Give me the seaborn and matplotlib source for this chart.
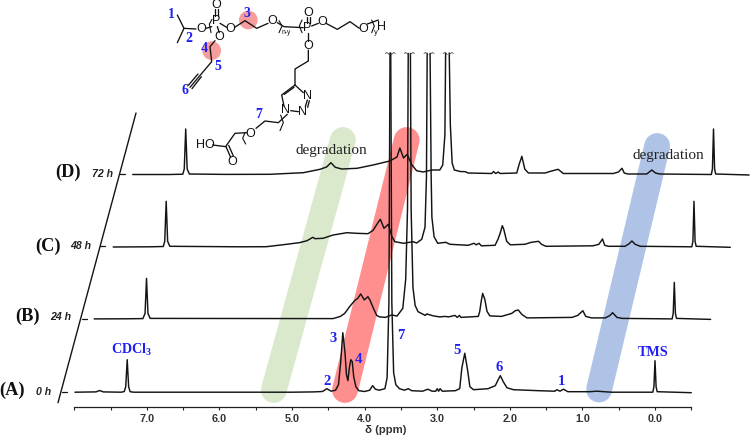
import numpy as np
import matplotlib
matplotlib.use("Agg")
import matplotlib.pyplot as plt
from matplotlib.patches import Circle
import seaborn as sns

# ---------- spectra: (delta ppm, height above the trace's baseline) ----------
delta_A = [7.99,7.70,7.65,7.60,7.35,7.31,7.29,7.27,7.25,7.23,7.18,5.0,4.7,4.58,4.52,4.46,4.40,4.36,4.33,4.30,4.27,4.25,4.23,4.21,4.19,4.17,4.15,4.12,4.08,4.0,3.93,3.89,3.85,3.8,3.72,3.69,3.665,3.65,3.64,3.625,3.60,3.57,3.52,3.45,3.40,3.35,3.2,3.13,3.07,3.02,3.00,2.98,2.96,2.93,2.75,2.69,2.66,2.62,2.58,2.55,2.5,2.3,2.2,2.16,2.13,2.09,2.04,1.95,1.6,1.38,1.35,1.31,1.26,1.2,0.9,0.8,0.6,0.03,0.015,0.0,-0.015,-0.03,-0.5]
height_A = [0.5,0.8,2.2,0.8,0.5,1.2,6,33,6,1,0.5,0.5,0.8,1.2,4,1.5,2.5,8,30,60,40,18,12,25,33,31,16,6,2,1.2,2.5,7,3.5,2.5,4,15,90,339.7,339.7,90,20,8,4,2.5,4,2,1.5,3.5,1.5,1.5,4,1.5,4,1.5,2,4,25,39.5,22,6,3,4,7,13,17,11,5,3,2,1.5,3,1.5,3.5,1,1,1.5,0.5,0.5,6,32,6,1,0]

delta_B = [7.99,7.57,7.32,7.29,7.27,7.25,7.22,4.70,4.60,4.54,4.47,4.40,4.36,4.32,4.27,4.22,4.19,4.15,4.10,4.06,3.98,3.89,3.82,3.74,3.70,3.675,3.665,3.635,3.625,3.60,3.57,3.53,3.47,3.43,3.41,3.32,3.23,3.16,3.11,3.02,2.99,2.96,2.94,2.70,2.68,2.66,2.64,2.61,2.58,2.54,2.38,2.24,2.19,2.15,2.10,2.03,1.41,1.33,1.26,1.22,1.14,0.95,0.885,0.85,0.79,0.72,0.03,0.015,0.0,-0.015,-0.03,-0.5]
height_B = [0.5,0.6,0.8,6,41,6,1,0.8,3,6,13,19,21,25.5,19.5,22.7,19,12,4,2.5,2,4.5,3.3,11,40,110,266,266,110,32,14,7.7,5.5,4,5.5,3.5,2.5,3,2.5,4,2,4,2,3,8,18,26,20,8,3.5,3,6,8.7,9.4,5,1.5,2,4,8.7,3,1.5,1.5,4,6.7,2,1,0.5,6,37,6,1,0]

delta_C = [8.0,7.49,7.31,7.29,7.27,7.25,7.22,6.25,5.89,5.61,5.43,5.33,5.25,5.22,5.11,4.97,4.78,4.65,4.49,4.42,4.35,4.32,4.27,4.21,4.16,4.12,4.00,3.87,3.82,3.75,3.705,3.685,3.675,3.635,3.62,3.61,3.58,3.53,3.42,3.36,3.11,3.03,3.00,2.96,2.93,2.74,2.70,2.67,2.64,2.62,2.58,2.53,2.33,2.24,2.14,2.10,2.04,1.39,1.31,1.26,1.23,1.18,0.95,0.895,0.855,0.81,0.74,0.03,0.015,0.0,-0.015,-0.03,-0.5]
height_C = [0.3,0.5,0.8,6,46,6,1,0.5,0.6,3,4.7,6.6,10,8.6,9,12.3,14.6,14,13.6,17,25,28,19,23,10.6,5.6,4,5.6,4.3,8,20,70,194,194,70,30,10.6,4,5,3,2,4,2.5,4,1.5,2,8,14,21.6,18,6,2.5,3,5,6,3,1,1.5,3,8.3,2,1,1,3.5,6.3,3,1,0.5,6,46,6,1,0]

delta_D = [8.0,7.49,7.31,7.29,7.27,7.25,7.22,6.73,6.11,5.65,5.42,5.33,5.27,5.21,5.12,4.91,4.69,4.46,4.36,4.32,4.27,4.22,4.16,4.09,4.00,3.88,3.77,3.73,3.70,3.69,3.64,3.625,3.60,3.57,3.49,3.42,3.38,3.055,3.03,3.00,2.965,2.94,2.71,2.68,2.64,2.60,2.55,2.32,2.23,2.14,2.07,1.38,1.31,1.26,1.23,1.18,0.92,0.85,0.80,0.74,0.03,0.015,0.0,-0.015,-0.03,-0.49]
height_D = [0.5,0.5,0.8,6,46,6,1,0.6,0.7,2.3,5.7,8,12.3,7.7,6,6.7,10,14,18,27,17,20.7,10.7,4.3,3,5,5,10,40,122,122,50,12,5,3.5,3.3,2,1.5,3.5,1.5,3,1.5,2,10,18.7,6,2,2,4,5.7,1.5,1.5,3,6.7,2,1,1,5,2,1,0.5,6,46,6,1,0]

traces = [(delta_A, height_A), (delta_B, height_B), (delta_C, height_C), (delta_D, height_D)]
trace_base = [392.7, 319.4, 247.3, 175.0]
trace_shift = [0.0, -0.266, -0.537, -0.806]

# highlighted bands: (delta on the axis, pixel row)
band_green = ([5.25, 4.30], [390, 140])
band_red = ([4.27, 3.42], [390, 140])
band_blue = ([0.77, -0.03], [389.5, 146])

ticks_major = [7, 6, 5, 4, 3, 2, 1, 0]
ticks_minor = [8, 7.5, 6.5, 5.5, 4.5, 3.5, 2.5, 1.5, 0.5, -0.5]
tick_labels = ["7.0", "6.0", "5.0", "4.0", "3.0", "2.0", "1.0", "0.0"]

sns.set_theme(style="white")
plt.rcParams["font.family"] = ["Liberation Sans", "DejaVu Sans"]
plt.rcParams["mathtext.default"] = "regular"

fig = plt.figure(figsize=(7.5, 4.36), dpi=100)
ax = fig.add_axes([0, 0, 1, 1])
ax.patch.set_alpha(0)

BLK = "#141414"
for (b, col) in [(band_green, "#DAE8CC"), (band_red, "#FF8F8F"), (band_blue, "#AFC3E6")]:
    sns.lineplot(x=b[0], y=b[1], sort=False, estimator=None, ax=ax, color=col,
                 lw=18.6, solid_capstyle="round", zorder=1, legend=False)

for (d, h), base, sh in zip(traces, trace_base, trace_shift):
    d = np.array(d) + sh
    y = base - np.array(h)
    i = int(np.argmax(h))
    for dd, yy in ((d[:i + 1], y[:i + 1]), (d[i + 1:], y[i + 1:])):
        sns.lineplot(x=dd, y=yy, sort=False, estimator=None, ax=ax, color=BLK,
                     lw=1.05, zorder=3, legend=False)

ax.set_xlim(655 / 72.6, -95 / 72.6)
ax.set_ylim(436, 0)
for s in ("top", "left", "right"):
    ax.spines[s].set_visible(False)
ax.spines["bottom"].set_position(("data", 406.7))
ax.spines["bottom"].set_bounds(8, -0.5)
ax.spines["bottom"].set_color("#222222")
ax.spines["bottom"].set_linewidth(0.9)
ax.set_yticks([])
ax.set_xticks(ticks_major, tick_labels, fontsize=7.8, fontweight="bold", color="#333333")
ax.set_xticks(ticks_minor, minor=True)
ax.tick_params(axis="x", which="both", direction="out", length=2.2, width=0.8,
               color="#222222", bottom=True, pad=3.2)
ax.set_ylabel("")
ax.set_xlabel("\u03b4 (ppm)", fontsize=8.2, fontweight="bold", color="#333333")
ax.xaxis.set_label_coords(385.5 / 750, 1 - 424.5 / 436)

# ---------- overlay in pixel coordinates: frame line, labels ----------
ov = fig.add_axes([0, 0, 1, 1], zorder=5)
ov.set_xlim(0, 750)
ov.set_ylim(436, 0)
ov.axis("off")
ov.plot([58, 136], [402.7, 113], color=BLK, lw=1.0)
for x0, y0 in [(61.7, 392), (81.7, 319), (100, 246.3), (120, 174.3)]:
    ov.plot([x0, x0 + 5.2], [y0, y0], color=BLK, lw=0.9)

SER = ["Liberation Serif", "DejaVu Serif"]
SAN = ["Liberation Sans", "DejaVu Sans"]
BLUE = "#1F1FF5"
for t, x, y in [("(A)", 12, 390), ("(B)", 27.5, 316), ("(C)", 47.5, 246.5), ("(D)", 67.5, 172.7)]:
    ov.text(x, y, t, family=SER, fontweight="bold", fontsize=13.2, ha="center", va="center", color="#111111")
for t, x, y in [("0 h", 44, 391.7), ("24 h", 61, 317.3), ("48 h", 80.5, 246), ("72 h", 102, 174)]:
    ov.text(x, y, t, family=SAN, fontweight="bold", style="italic", fontsize=7.6, ha="center", va="center", color="#222222")
for t, x, y in [("CDCl$_3$", 132, 350), ("TMS", 653.5, 352.7)]:
    ov.text(x, y, t, family=SER, fontweight="bold", fontsize=10.2, ha="center", va="center", color=BLUE)
for t, x, y in [("3", 332.7, 338), ("4", 358, 359), ("2", 326.7, 381.7), ("7", 401, 335),
                ("5", 456.7, 350.7), ("6", 499.3, 367), ("1", 561, 381)]:
    ov.text(x, y, t, family=SER, fontweight="bold", fontsize=10.5, ha="center", va="center", color=BLUE)
for x, y in [(331.3, 150.7), (668.6, 155)]:
    ov.text(x, y, "degradation", family=SER, fontsize=11, ha="center", va="center", color="#222222")

# break marks on the clipped solvent peaks
for xc in [390.3, 409.3, 429, 448.3]:
    for sgn in (-1, 1):
        ov.plot([xc + sgn * 5, xc + sgn * 3.6, xc + sgn * 2.2, xc + sgn * 1],
                [53.4, 52.6, 53.4, 54.6], color="#444444", lw=0.6)

# ---------- chemical structure, in 3x crop coordinates ----------
st = fig.add_axes([0, 0, 1, 1], zorder=6)
st.set_xlim(-390, 1860)
st.set_ylim(1308, 0)
st.axis("off")
for cx, cy in [(355, 60), (245, 152)]:
    st.add_patch(Circle((cx, cy), 28, color="#F59C9C", lw=0, zorder=1))

bonds = [
    [(142, 45), (162, 85), (142, 128)], [(162, 85), (198, 87)],
    [(228, 85), (245, 80)], [(254, 48), (254, 28)], [(263, 48), (263, 28)],
    [(270, 70), (290, 82)], [(262, 80), (268, 98)],
    [(314, 82), (345, 62), (380, 85), (414, 70)], [(442, 68), (462, 80), (520, 83)],
    [(530, 68), (530, 50)], [(539, 68), (539, 50)], [(545, 78), (565, 70)],
    [(588, 70), (622, 88), (660, 65), (688, 85)],
    [(535, 100), (535, 123)], [(535, 150), (535, 183), (495, 207), (495, 255)],
    [(495, 255), (520, 278)], [(532, 300), (526, 320)], [(538, 302), (533, 322)],
    [(505, 335), (482, 332)], [(462, 318), (455, 285), (495, 255)], [(463, 283), (492, 262)],
    [(472, 343), (445, 368), (405, 363), (378, 385)],
    [(350, 398), (315, 400), (288, 438)], [(248, 435), (288, 440)],
    [(288, 440), (302, 472)], [(296, 436), (310, 468)],
    [(255, 122), (240, 140), (245, 185), (180, 262)],
    [(204, 222), (175, 256)], [(214, 230), (186, 266)],
    [(712, 72), (745, 60)],
]
for b in bonds:
    st.plot([p[0] for p in b], [p[1] for p in b], color="#111111", lw=0.95, zorder=2)

brackets = [
    [(246, 58), (238, 72), (243, 98)], [(447, 62), (456, 78), (447, 98)],
    [(516, 60), (508, 78), (516, 98)], [(452, 345), (460, 368), (450, 392)],
    [(345, 398), (338, 415), (347, 432)], [(725, 60), (733, 78), (725, 98)],
]
for b in brackets:
    st.plot([p[0] for p in b], [p[1] for p in b], color="#111111", lw=0.8, zorder=2)

atoms = [("O", 213, 88), ("P", 258, 64), ("O", 260, 14), ("O", 300, 88), ("O", 268, 110),
         ("O", 428, 63), ("P", 533, 85), ("O", 535, 38), ("O", 576, 65), ("O", 535, 137),
         ("O", 700, 88), ("N", 533, 287), ("N", 517, 335), ("N", 468, 330),
         ("O", 362, 403), ("HO", 225, 435), ("O", 307, 485), ("H", 755, 80)]
for t, x, y in atoms:
    st.text(x, y, t, family=SAN, fontsize=9, ha="center", va="center", color="#111111", zorder=3)
st.text(470, 97, "n-y", family=SAN, fontsize=4.8, ha="center", va="center", color="#111111", zorder=3)
st.text(738, 98, "y", family=SAN, fontsize=5.5, ha="center", va="center", color="#111111", zorder=3)
for t, x, y in [("1", 125, 42), ("2", 177, 115), ("3", 350, 40), ("4", 223, 147),
                ("5", 265, 200), ("6", 165, 272), ("7", 387, 342)]:
    st.text(x, y, t, family=SER, fontweight="bold", fontsize=10, ha="center", va="center", color=BLUE, zorder=4)

fig.savefig("out.png", dpi=100)
